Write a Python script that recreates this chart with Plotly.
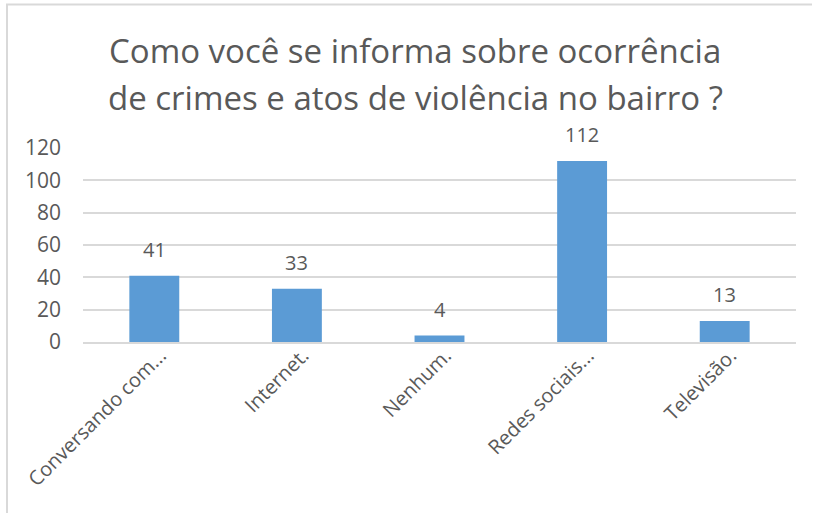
import plotly.graph_objects as go

categories = ["Conversando com...", "Internet.", "Nenhum.", "Redes sociais...", "Televisão."]
values = [41, 33, 4, 112, 13]
y_ticks = [0, 20, 40, 60, 80, 100, 120]

title_lines = ["Como você se informa sobre ocorrência",
               "de crimes e atos de violência no bairro ?"]

FONT = "Open Sans"
GRAY = "#595959"

fig = go.Figure()
fig.add_trace(go.Bar(
    x=categories, y=values,
    marker=dict(color="#5B9BD5", line=dict(width=0)),
    hoverinfo="x+y",
))

for c, v in zip(categories, values):
    fig.add_annotation(x=c, y=v, text=str(v), showarrow=False,
                       yanchor="bottom", yshift=11,
                       font=dict(family=FONT, size=20, color=GRAY))

# plot-area pixel geometry helpers
L, R, T, B = 83, 796, 148, 342
def px(xp):
    return (xp - L) / (R - L)
def py(yp):
    return (B - yp) / (B - T)

# title (two lines, Excel-like wide line spacing)
for line, ypix in zip(title_lines, [50, 97]):
    fig.add_annotation(xref="paper", yref="paper", x=px(415), y=py(ypix),
                       xanchor="center", yanchor="middle", showarrow=False,
                       text=line, font=dict(family=FONT, size=33, color=GRAY))

# chart border (Excel chart area frame, partially cropped)
fig.add_shape(type="line", xref="paper", yref="paper",
              x0=px(7), x1=px(7), y0=py(4.5), y1=py(513),
              line=dict(color="#D9D9D9", width=2))
fig.add_shape(type="line", xref="paper", yref="paper",
              x0=px(6), x1=px(812), y0=py(4.5), y1=py(4.5),
              line=dict(color="#D9D9D9", width=2))

fig.update_layout(
    width=813, height=513,
    margin=dict(l=L, r=813 - R, t=T, b=513 - B),
    paper_bgcolor="white", plot_bgcolor="white",
    bargap=0.65,
    showlegend=False,
    font=dict(family=FONT, color=GRAY),
    xaxis=dict(
        tickangle=-45, tickfont=dict(family=FONT, size=20, color=GRAY),
        showgrid=False, showline=True, linecolor="#D9D9D9", linewidth=2,
        ticks="", fixedrange=True,
        ticklabelstandoff=-8, ticklabelshift=6,
    ),
    yaxis=dict(
        range=[0, 120], tickvals=y_ticks,
        tickfont=dict(family=FONT, size=21, color=GRAY),
        showgrid=True, gridcolor="#D9D9D9", gridwidth=2,
        zeroline=False, showline=False, ticks="",
        ticklabelstandoff=21, fixedrange=True,
    ),
)

fig.write_html("out.html", config={"displayModeBar": False},
               post_script="document.body.style.margin='0';document.body.style.overflow='hidden';")
